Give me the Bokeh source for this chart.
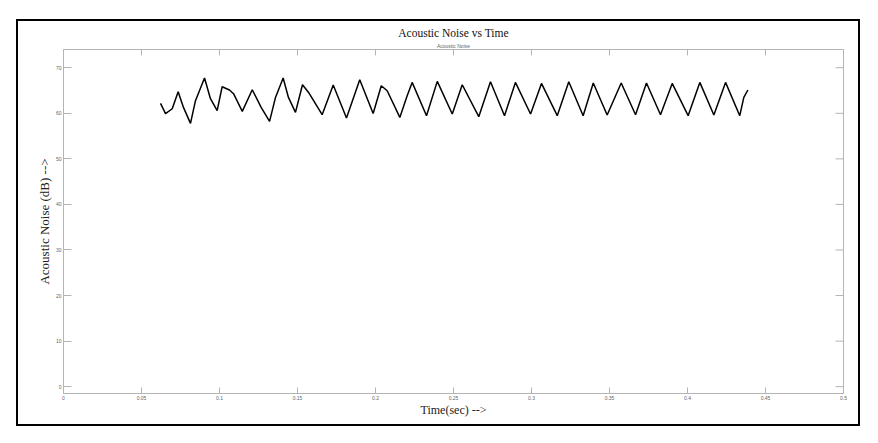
import math
from bokeh.plotting import figure
from bokeh.models import Title, Range1d, FixedTicker
from bokeh.embed import file_html
from bokeh.resources import INLINE

# Data (time in seconds, noise in dB)
time_sec = [0.0622, 0.0654, 0.0697, 0.0735, 0.0769, 0.0814, 0.0846, 0.0904, 0.0942, 0.0985,
            0.1017, 0.1064, 0.1090, 0.1146, 0.1210, 0.1267, 0.1321, 0.1359, 0.1408, 0.1442,
            0.1487, 0.1532, 0.1571, 0.1658, 0.1729, 0.1814, 0.1899, 0.1985, 0.2037, 0.2075,
            0.2156, 0.2203, 0.2235, 0.2327, 0.2396, 0.2492, 0.2556, 0.2662, 0.2737, 0.2827,
            0.2897, 0.2994, 0.3064, 0.3165, 0.3239, 0.3331, 0.3396, 0.3485, 0.3575, 0.3667,
            0.3737, 0.3827, 0.3902, 0.4004, 0.4079, 0.4169, 0.4244, 0.4335, 0.4361, 0.4387]
noise_db = [62.17, 59.91, 61.00, 64.74, 61.29, 57.78, 62.76, 67.74, 63.20, 60.57,
            65.83, 65.11, 64.30, 60.41, 65.17, 61.29, 58.22, 63.48, 67.74, 63.48,
            60.19, 66.27, 64.58, 59.69, 66.21, 58.96, 67.37, 59.97, 66.05, 64.95,
            59.10, 63.86, 66.78, 59.47, 67.00, 59.84, 66.27, 59.25, 66.93, 59.47,
            66.78, 59.84, 66.56, 59.47, 66.93, 59.47, 66.64, 59.62, 66.64, 59.69,
            66.64, 59.69, 66.56, 59.47, 66.78, 59.62, 66.78, 59.47, 63.48, 65.11]

x_ticks = [0, 0.05, 0.1, 0.15, 0.2, 0.25, 0.3, 0.35, 0.4, 0.45, 0.5]
x_tick_labels = ["0", "0.05", "0.1", "0.15", "0.2", "0.25", "0.3", "0.35", "0.4", "0.45", "0.5"]
y_ticks = [0, 10, 20, 30, 40, 50, 60, 70]

x_min, x_max = 0, 0.5
y_min, y_max = -1.5, 74

title_text = "Acoustic Noise vs Time"
subtitle_text = "Acoustic Noise"
x_label = "Time(sec) -->"
y_label = "Acoustic Noise (dB) -->"

GRAY = "#b4b4b4"
SERIF = "Liberation Serif"

p = figure(width=840, height=403, output_backend="svg", toolbar_location=None,
           x_range=Range1d(x_min, x_max), y_range=Range1d(y_min, y_max),
           title_location=None,
           min_border_left=45, min_border_right=15, min_border_top=28, min_border_bottom=31)
p.margin = (21, 0, 0, 18)
p.styles = {"outline": "2px solid black"}
p.background_fill_color = "white"
p.border_fill_color = "white"
p.outline_line_color = GRAY
p.grid.visible = False

p.line(time_sec, noise_db, line_color="black", line_width=1.5)

# top and right tick marks (box style)
p.ray(x=x_ticks, y=[y_max] * len(x_ticks), length=6, length_units="screen",
      angle=-math.pi / 2, line_color=GRAY, line_width=1)
p.ray(x=[x_max] * len(y_ticks), y=y_ticks, length=8, length_units="screen",
      angle=math.pi, line_color=GRAY, line_width=1)

# bottom axis
xa = p.xaxis[0]
xa.ticker = FixedTicker(ticks=x_ticks)
xa.major_label_overrides = {t: l for t, l in zip(x_ticks, x_tick_labels)}
xa.major_label_text_font_size = "5px"
xa.major_label_text_color = "#666666"
xa.major_label_standoff = 2
xa.major_tick_in = 6
xa.major_tick_out = 0
xa.minor_tick_line_color = None
xa.axis_line_color = GRAY
xa.major_tick_line_color = GRAY
xa.axis_label = x_label
xa.axis_label_text_font = SERIF
xa.axis_label_text_font_style = "normal"
xa.axis_label_text_font_size = "12px"
xa.axis_label_text_color = "#222222"
xa.axis_label_standoff = 0

# left axis
ya = p.yaxis[0]
ya.ticker = FixedTicker(ticks=y_ticks)
ya.major_label_text_font_size = "5px"
ya.major_label_text_color = "#666666"
ya.major_label_standoff = 2
ya.major_tick_in = 8
ya.major_tick_out = 0
ya.minor_tick_line_color = None
ya.axis_line_color = GRAY
ya.major_tick_line_color = GRAY
ya.axis_label = y_label
ya.axis_label_text_font = SERIF
ya.axis_label_text_font_style = "normal"
ya.axis_label_text_font_size = "13px"
ya.axis_label_text_color = "#222222"
ya.axis_label_standoff = 1

p.add_layout(Title(text=subtitle_text, align="center", text_font_size="5px",
                   text_font_style="normal", text_color="#666666", standoff=1), "above")
p.add_layout(Title(text=title_text, align="center", text_font=SERIF, text_font_size="11.5px",
                   text_font_style="normal", text_color="#111111", standoff=3), "above")

open("out.html", "w").write(file_html(p, INLINE))
